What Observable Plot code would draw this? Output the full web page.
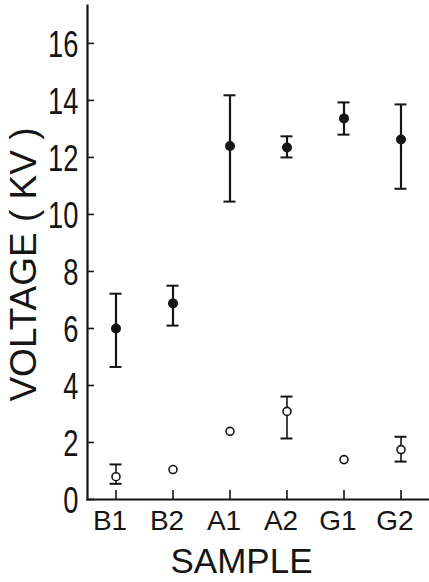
<!DOCTYPE html>
<html>
<head>
<meta charset="utf-8">
<script src="https://cdn.jsdelivr.net/npm/d3@7"></script>
<script src="https://cdn.jsdelivr.net/npm/@observablehq/plot@0.6"></script>
<style>
  html, body { margin: 0; padding: 0; background: #ffffff; }
  #chart svg { display: block; overflow: visible; }
</style>
</head>
<body>
<div id="chart"></div>
<script>
const samples = ["B1", "B2", "A1", "A2", "G1", "G2"];
const highMean = [6.0, 6.88, 12.4, 12.35, 13.37, 12.63];
const highLow  = [4.65, 6.1, 10.45, 12.0, 12.8, 10.9];
const highHigh = [7.22, 7.5, 14.18, 12.74, 13.93, 13.86];
const lowMean  = [0.8, 1.05, 2.39, 3.09, 1.40, 1.75];
const lowLow   = [0.55, null, null, 2.14, null, 1.33];
const lowHigh  = [1.23, null, null, 3.61, null, 2.2];
const yTicks = [0, 2, 4, 6, 8, 10, 12, 14, 16];

const high = samples.map((s, i) => ({sample: s, v: highMean[i], lo: highLow[i], hi: highHigh[i]}));
const low = samples.map((s, i) => ({sample: s, v: lowMean[i], lo: lowLow[i], hi: lowHigh[i]}));
const lowErr = low.filter(d => d.lo != null);
const caps = [
  ...high.flatMap(d => [{sample: d.sample, y: d.lo}, {sample: d.sample, y: d.hi}]),
  ...lowErr.flatMap(d => [{sample: d.sample, y: d.lo}, {sample: d.sample, y: d.hi}])
];

const ink = "#151515";
const sans = "'Liberation Sans', Arial, sans-serif";

const chart = Plot.plot({
  width: 429,
  height: 582,
  marginLeft: 87,
  marginRight: 0,
  marginTop: 5,
  marginBottom: 83,
  style: {background: "transparent", color: ink, fontFamily: sans},
  x: {type: "band", domain: samples, padding: 0, label: null},
  y: {domain: [0, 17.33], label: null},
  marks: [
    Plot.frame({anchor: "left", stroke: ink, strokeWidth: 2.2}),
    Plot.frame({anchor: "bottom", stroke: ink, strokeWidth: 2.2}),
    Plot.axisY(yTicks, {anchor: "left", tickSize: 7, text: null, dx: 7, stroke: ink, strokeWidth: 1.6, label: null}),
    Plot.axisY(yTicks, {anchor: "left", tickSize: 0, tickPadding: 9, dy: 2, fontSize: 36, fill: ink, label: null}),
    Plot.axisX({anchor: "bottom", tickSize: 9, text: null, dy: -9, stroke: ink, strokeWidth: 1.6, label: null}),
    Plot.axisX({anchor: "bottom", tickSize: 0, tickPadding: 11, dx: -6, fontSize: 28, fill: ink, label: null}),
    Plot.text(["SAMPLE"], {frameAnchor: "bottom", dx: -17, dy: 62, fontSize: 35, fill: ink, lineAnchor: "middle", textAnchor: "middle"}),
    Plot.text(["VOLTAGE ( KV )"], {frameAnchor: "left", rotate: -90, dx: -63, dy: 12, fontSize: 37, fill: ink, lineAnchor: "middle", textAnchor: "middle"}),
    Plot.ruleX(high, {x: "sample", y1: "lo", y2: "hi", stroke: ink, strokeWidth: 2.2}),
    Plot.ruleX(lowErr, {x: "sample", y1: "lo", y2: "hi", stroke: ink, strokeWidth: 1.6}),
    Plot.tickY(caps, {x: "sample", y: "y", insetLeft: 22.5, insetRight: 22.5, stroke: ink, strokeWidth: 2}),
    Plot.dot(high, {x: "sample", y: "v", r: 5, fill: ink, stroke: "none"}),
    Plot.dot(low, {x: "sample", y: "v", r: 4, fill: "white", stroke: ink, strokeWidth: 1.6})
  ]
});
document.getElementById("chart").append(chart);

// narrow the y tick digits like the original typeface
chart.querySelectorAll('g[aria-label="y-axis tick label"] text').forEach(t => {
  const L = t.getComputedTextLength();
  if (L > 0) {
    t.setAttribute("textLength", (L * 0.76).toFixed(1));
    t.setAttribute("lengthAdjust", "spacingAndGlyphs");
  }
});
</script>
</body>
</html>
